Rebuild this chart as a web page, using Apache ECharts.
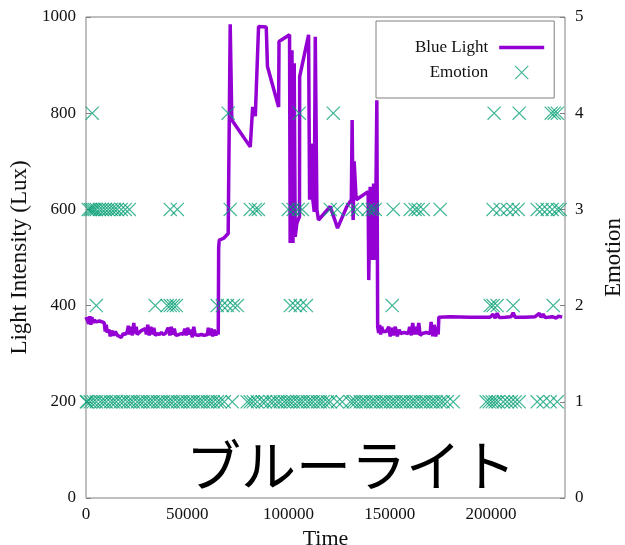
<!DOCTYPE html>
<html>
<head>
<meta charset="utf-8">
<script src="https://cdn.jsdelivr.net/npm/echarts@6/dist/echarts.min.js"></script>
<style>
html,body{margin:0;padding:0;background:#fff;}
#chart{width:625px;height:545px;}
</style>
</head>
<body>
<div id="chart"></div>
<script>
// Blue light intensity (Lux) over time
var blueTime = [0,400,900,1400,1900,2400,2900,3400,4100,5100,6600,8000,9000,9500,10000,10500,11300,12000,12700,13500,14500,15500,16400,17400,18400,19400,20400,20900,21400,22100,22900,23600,24100,24800,25300,26300,27300,28300,29300,29800,30500,31200,32000,32700,33500,34200,35200,36200,37200,38200,39200,40100,40600,41400,42100,42800,43600,44300,45100,46000,47000,48000,48800,49500,50200,51000,51700,52500,53200,53900,55400,56900,58400,59900,60400,61100,61800,62600,63300,64100,64800,65300,65500,65800,
68000,70200,71200,72000,81100,82300,83600,85200,89000,89600,95100,95300,100500,100800,101700,102200,102800,103300,104100,105400,105500,109900,110400,111200,112000,112700,113200,114000,114800,120600,124200,128800,131000,131400,131900,132400,133400,139300,139600,140300,141200,142000,142800,143600,144000,144500,
145000,145500,146000,146700,148200,149500,150200,150900,151700,152700,153700,154600,155400,157100,159100,159800,160600,161300,162000,162800,163500,164300,165000,166000,168000,169900,170400,171200,171900,172700,173400,173900,174200,174900,179800,189700,199600,201000,202000,203000,204000,207000,209900,210900,211900,216900,221800,223800,224700,225700,226700,230200,232200,233200,235100];
var blueLux = [376,372,380,362,378,360,376,364,370,366,368,366,364,346,360,344,350,336,348,338,346,338,342,334,342,340,346,358,340,356,338,364,342,356,340,344,348,350,352,340,360,338,356,340,354,338,342,340,344,340,342,340,354,338,356,340,352,338,342,340,342,340,352,338,354,340,350,334,356,340,338,340,338,340,354,338,352,336,350,338,346,340,520,536,
540,550,985,786,730,813,794,980,979,897,813,949,963,530,931,530,904,543,571,585,876,963,620,737,620,595,959,599,578,606,561,606,620,786,578,700,620,637,453,647,495,654,495,827,356,343,
360,340,356,346,346,356,336,354,338,356,336,350,342,344,342,356,338,364,340,356,340,364,338,342,344,342,366,336,360,336,356,340,376,378,377,376,376,382,374,384,375,376,377,385,376,376,377,384,376,382,375,377,374,378,376];

// Emotion observations: times at each emotion level
var emotion1Times = [200,640,2120,3600,5080,7060,8540,10020,12000,13480,14960,16930,18410,20390,21870,23350,25330,26810,28290,30270,31740,33220,35200,36680,38160,40140,41620,43100,45070,46550,48030,50010,51490,52970,54940,56420,57900,59880,61360,62840,64810,66290,68270,72220,
79620,81100,82580,84560,87030,88510,90980,92460,94430,95910,97890,99370,100850,102330,104300,105780,107260,109240,110720,112200,114170,115650,117130,119110,120590,124050,126510,
130460,131940,133420,135400,136880,138360,140330,141810,143290,145270,146750,148230,150200,151680,153160,155140,156620,158100,160070,161550,163030,165010,166490,167970,169950,171430,172910,174880,176360,178340,181300,
197590,199070,200550,202030,203510,205980,207950,209930,211910,213880,222770,225730,229190,232640];
var emotion2Times = [5100,34200,40100,41600,43100,44600,64800,67300,69800,72700,74700,100900,103300,105800,108800,151200,199600,201000,203000,210900,230700];
var emotion3Times = [1100,2100,3100,4100,5100,6600,8000,9500,11000,12500,14000,15400,17400,19400,21400,41600,45100,71200,81100,83600,85100,99900,102300,104800,106800,120600,124100,131500,133900,139300,141300,142800,151700,160100,162500,164000,166500,174900,201000,204500,208000,210900,213400,222800,225200,227700,230200,232700,234100];
var emotion4Times = [3100,70200,105300,122100,201500,213900,229700,231200,232700];
var emotionLevels = [1, 2, 3, 4];

// Axis ticks
var xTicks = {min: 0, max: 236500, interval: 50000};
var luxTicks = {min: 0, max: 1000, interval: 200};
var emotionTicks = {min: 0, max: 5, interval: 1};

var blueData = blueTime.map(function (t, i) { return [t, blueLux[i]]; });
var emoData = [];
[emotion1Times, emotion2Times, emotion3Times, emotion4Times].forEach(function (arr, k) {
  arr.forEach(function (t) { emoData.push([t, emotionLevels[k]]); });
});

var serif = '"Liberation Serif", "DejaVu Serif", "Times New Roman", serif';
var crossPath = 'path://M0,0.85L0.85,0L14,13.15L13.15,14Z M13.15,0L14,0.85L0.85,14L0,13.15Z';
var plain = function (v) { return String(v); };

var chart = echarts.init(document.getElementById('chart'), null, {renderer: 'canvas'});
chart.setOption({
  animation: false,
  backgroundColor: '#fff',
  textStyle: {fontFamily: serif},
  grid: {left: 86, right: 60, top: 17, bottom: 47, containLabel: false, outerBoundsMode: 'none',
         show: true, borderColor: '#808080', borderWidth: 1, backgroundColor: 'transparent'},
  legend: {
    data: [{name: 'Blue Light', icon: 'path://M0,0L45,0L45,3.5L0,3.5Z'}, {name: 'Emotion'}],
    orient: 'vertical',
    align: 'right',
    left: 376,
    top: 21,
    padding: [18, 10, 17, 39],
    itemGap: 8,
    itemWidth: 45,
    itemHeight: 14,
    borderColor: '#808080',
    borderWidth: 1,
    textStyle: {fontFamily: serif, fontSize: 17, color: '#111', padding: [0, 6, 0, 0]}
  },
  xAxis: {
    type: 'value', min: xTicks.min, max: xTicks.max, interval: xTicks.interval,
    name: 'Time', nameLocation: 'middle', nameGap: 21,
    nameTextStyle: {fontFamily: serif, fontSize: 22, color: '#111'},
    axisLine: {show: false}, axisTick: {show: false}, splitLine: {show: false},
    axisLabel: {fontFamily: serif, fontSize: 17, color: '#111', margin: 8, showMaxLabel: false, formatter: plain}
  },
  yAxis: [{
    type: 'value', min: luxTicks.min, max: luxTicks.max, interval: luxTicks.interval,
    name: 'Light Intensity (Lux)', nameLocation: 'middle', nameGap: 52,
    nameTextStyle: {fontFamily: serif, fontSize: 23, color: '#111'},
    axisLine: {show: false}, splitLine: {show: false},
    axisTick: {show: true, inside: true, length: 5, lineStyle: {color: '#808080'}},
    axisLabel: {fontFamily: serif, fontSize: 17, color: '#111', margin: 10, formatter: plain}
  }, {
    type: 'value', position: 'right', min: emotionTicks.min, max: emotionTicks.max, interval: emotionTicks.interval,
    name: 'Emotion', nameLocation: 'middle', nameGap: 37,
    nameTextStyle: {fontFamily: serif, fontSize: 23, color: '#111'},
    axisLine: {show: false}, splitLine: {show: false},
    axisTick: {show: true, inside: true, length: 5, lineStyle: {color: '#808080'}},
    axisLabel: {fontFamily: serif, fontSize: 17, color: '#111', margin: 10, formatter: plain}
  }],
  series: [{
    name: 'Blue Light', type: 'line', data: blueData, yAxisIndex: 0,
    showSymbol: false, symbol: 'none', z: 2,
    lineStyle: {color: '#9400D3', width: 3.5},
    itemStyle: {color: '#9400D3'}
  }, {
    name: 'Emotion', type: 'scatter', data: emoData, yAxisIndex: 1,
    symbol: crossPath, symbolSize: 14, z: 3,
    itemStyle: {color: '#009E73', opacity: 0.75}
  }],
  graphic: [{
    type: 'text', x: 351, y: 465, z: 100,
    style: {text: 'ブルーライト', fill: '#000', font: '55px "Noto Sans CJK JP"', align: 'center', verticalAlign: 'middle'}
  }]
});
</script>
</body>
</html>
